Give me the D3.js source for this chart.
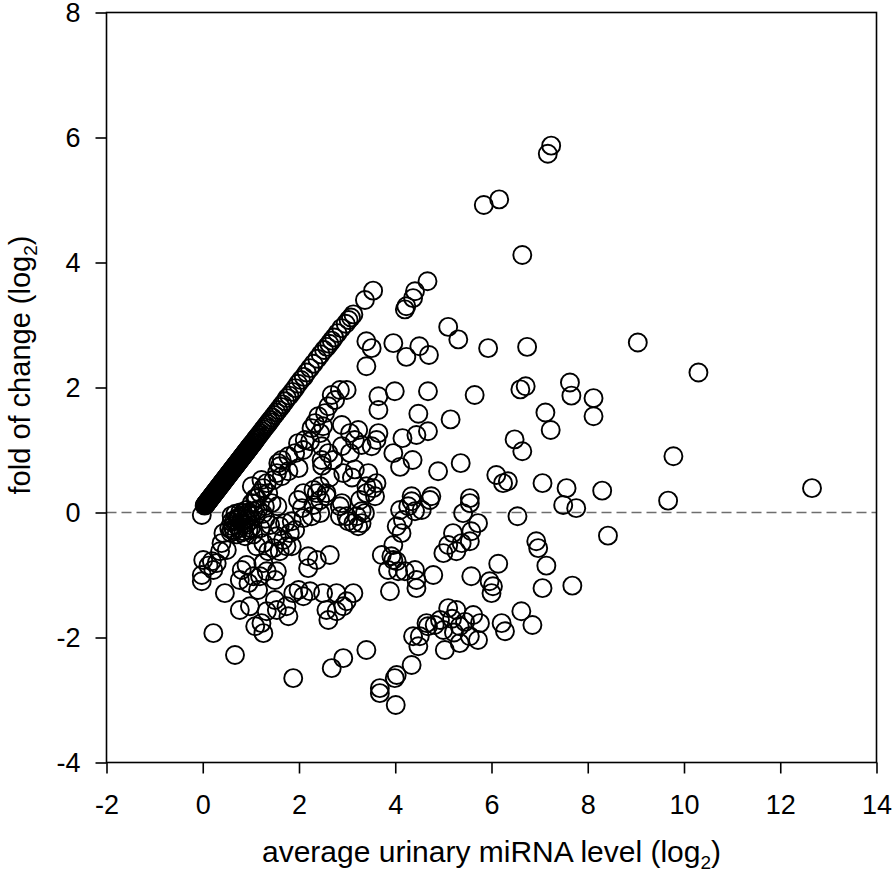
<!DOCTYPE html>
<html>
<head>
<meta charset="utf-8">
<script src="https://cdn.jsdelivr.net/npm/d3@7"></script>
<style>
  html, body { margin: 0; padding: 0; background: #fff; }
  svg { display: block; }
  text { font-family: "Liberation Sans", Arial, sans-serif; fill: #000; }
</style>
</head>
<body>
<svg id="chart" width="894" height="875"></svg>
<script>
// ---------- data ----------
const xTicks = [-2, 0, 2, 4, 6, 8, 10, 12, 14];
const yTicks = [-4, -2, 0, 2, 4, 6, 8];
const xTitle = "average urinary miRNA level (log";
const yTitle = "fold of change (log";

// upper diagonal band: very dense section near the origin
const diagonalDenseX = [0.04,0.05,0.06,0.07,0.08,0.09,0.1,0.11,0.12,0.13,0.14,0.15,0.16,0.17,0.18,0.19,0.2,0.21,0.22,0.23,0.24,0.25,0.26,0.27,0.28,0.29,0.3,0.31,0.32,0.33,0.34,0.35,0.36,0.37,0.38,0.39,0.4,0.41,0.42,0.43,0.44,0.45,0.46,0.47,0.48,0.49,0.5,0.51,0.52,0.53,0.54,0.55,0.56,0.57,0.58,0.59,0.6,0.61,0.62,0.63,0.64,0.65,0.66,0.67,0.68,0.69,0.7,0.71,0.72,0.73,0.74,0.75,0.76,0.77,0.78,0.79,0.8,0.81,0.82,0.83,0.84,0.85,0.86,0.87,0.88,0.89,0.9,0.91,0.92,0.93,0.94,0.95,0.96,0.97,0.98,0.99,1.0];
const diagonalDenseY = [0.11,0.12,0.13,0.14,0.15,0.16,0.17,0.18,0.19,0.2,0.21,0.22,0.23,0.24,0.25,0.26,0.27,0.28,0.29,0.3,0.31,0.32,0.33,0.34,0.35,0.36,0.37,0.38,0.39,0.4,0.41,0.42,0.43,0.44,0.45,0.46,0.47,0.48,0.49,0.5,0.51,0.52,0.53,0.54,0.55,0.56,0.57,0.58,0.59,0.6,0.61,0.62,0.63,0.64,0.65,0.66,0.67,0.68,0.69,0.7,0.71,0.72,0.73,0.74,0.75,0.76,0.77,0.78,0.79,0.8,0.81,0.82,0.83,0.84,0.85,0.86,0.87,0.88,0.89,0.9,0.91,0.92,0.93,0.94,0.95,0.96,0.97,0.98,0.99,1.0,1.01,1.02,1.03,1.04,1.05,1.06,1.07];
// upper diagonal band: sparser upper section
const diagonalX = [1.02,1.04,1.06,1.08,1.1,1.12,1.14,1.17,1.2,1.23,1.26,1.29,1.32,1.35,1.38,1.41,1.45,1.49,1.53,1.57,1.62,1.66,1.71,1.75,1.8,1.86,1.92,1.98,2.04,2.1,2.16,2.23,2.3,2.38,2.45,2.52,2.58,2.63,2.68,2.73,2.8,2.88,2.97,3.03,3.08,3.13,3.37,3.54];
const diagonalY = [1.09,1.11,1.12,1.15,1.17,1.19,1.21,1.24,1.27,1.3,1.33,1.36,1.39,1.42,1.45,1.48,1.52,1.56,1.6,1.64,1.69,1.73,1.78,1.83,1.87,1.93,1.99,2.06,2.12,2.17,2.24,2.31,2.38,2.46,2.53,2.6,2.65,2.7,2.75,2.8,2.87,2.95,3.02,3.08,3.12,3.17,3.4,3.55];

// all other points [avg level, fold change]
const scatterPoints = [
  [7.24,5.87],[7.17,5.74],[6.16,5.01],[5.84,4.92],[6.64,4.12],
  [5.93,2.63],[6.74,2.65],[9.04,2.72],[10.30,2.24],
  [5.65,1.88],[6.71,2.02],[6.60,1.97],[7.63,2.08],[7.66,1.87],[8.12,1.83],[7.12,1.60],[8.12,1.54],[7.23,1.32],
  [9.78,0.90],[8.30,0.35],[9.67,0.19],[12.66,0.39],[8.42,-0.37],
  [4.67,3.70],[4.41,3.54],[4.37,3.43],[4.23,3.30],[4.20,3.25],[5.10,2.97],[5.31,2.77],
  [3.96,2.71],[4.50,2.66],[4.23,2.49],[4.70,2.52],
  [3.99,1.94],[4.68,1.94],
  [4.48,1.58],[5.15,1.49],[4.68,1.30],[4.44,1.24],[4.15,1.19],[6.48,1.17],[6.64,0.98],
  [3.96,0.95],[4.36,0.84],[4.10,0.73],[5.36,0.79],[4.89,0.66],[6.10,0.60],[6.24,0.47],[6.34,0.50],[7.06,0.47],[7.56,0.39],
  [4.34,0.26],[4.75,0.26],[5.55,0.23],
  [4.34,0.18],[4.72,0.20],[4.10,0.04],[4.27,0.10],[4.41,0.02],[4.55,0.04],[4.16,-0.12],[4.03,-0.22],[4.13,-0.33],[3.96,-0.52],[3.92,-0.70],[4.03,-0.78],
  [5.55,0.15],[5.41,-0.01],[5.72,-0.17],
  [5.20,-0.33],[5.58,-0.30],[5.10,-0.52],[5.38,-0.49],[5.00,-0.65],[5.27,-0.62],[5.55,-0.46],
  [6.54,-0.06],[7.49,0.12],[7.76,0.07],[6.93,-0.46],[6.97,-0.57],[7.14,-0.85],[7.06,-1.21],[7.68,-1.17],
  [6.14,-0.82],[5.58,-1.02],[5.96,-1.10],[6.03,-1.18],[6.00,-1.29],
  [4.79,-1.00],[4.44,-1.21],[4.41,-0.92],[4.20,-0.94],[4.44,-1.08],
  [6.62,-1.58],[6.85,-1.80],[6.21,-1.77],[6.28,-1.90],
  [5.10,-1.53],[5.27,-1.56],[4.93,-1.72],[5.62,-1.64],[5.76,-1.77],[5.00,-1.88],[5.34,-1.82],[5.55,-1.98],[5.03,-2.20],[5.34,-2.09],[5.72,-2.04],[4.65,-1.77],[4.82,-1.80],[5.18,-1.70],[5.45,-1.75],[5.22,-1.92],
  [4.51,-1.98],[4.48,-2.14],[4.68,-1.82],[4.37,-1.98],
  [3.68,-2.81],[3.68,-2.89],[4.03,-2.60],[3.99,-2.65],[4.34,-2.44],[4.01,-3.08],[2.92,-2.33],[2.68,-2.49],[1.88,-2.65],[0.67,-2.28],[3.40,-2.20],
  [-0.02,-0.04],
  [0.01,-0.76],[0.19,-0.78],[0.29,-0.81],[0.22,-0.92],[0.12,-0.85],[0.36,-0.62],[0.43,-0.33],[0.60,-0.28],[-0.02,-1.0],[-0.02,-1.10],[0.39,-0.49],[0.50,-0.60],
  [0.46,-1.29],[0.77,-1.56],[0.98,-1.50],[0.22,-1.93],
  [0.81,-0.92],[0.77,-1.08],[0.95,-1.13],[1.15,-1.24],[0.91,-0.84],[1.05,-1.02],[1.19,-1.02],[1.33,-0.94],[1.54,-0.94],[1.50,-1.08],[1.26,-0.81],
  [1.88,-1.29],[1.99,-1.24],[1.74,-1.50],[1.54,-1.56],[1.50,-1.40],[1.33,-1.58],[1.22,-1.77],[1.09,-1.82],[1.26,-1.93],
  [2.09,-1.34],[2.23,-1.26],[1.78,-1.66],
  [2.50,-1.29],[2.57,-1.56],[2.61,-1.72],[2.78,-1.58],[2.92,-1.50],[2.99,-1.42],[3.13,-1.29],[2.78,-1.29],
  [2.19,-0.70],[2.37,-0.76],[2.64,-0.68],[2.19,-0.89],
  [3.72,-0.68],[3.96,-0.76],[4.06,-0.94],[3.85,-0.92],[3.89,-1.26],
  [1.12,-0.54],[1.26,-0.49],[1.36,-0.62],[1.47,-0.57],[1.60,-0.62],[1.74,-0.54],[1.67,-0.44],[1.54,-0.38],[1.81,-0.33],[1.60,-0.22],[1.71,-0.17],[1.85,-0.14],[1.92,-0.28],[1.85,-0.54],
  [2.09,-0.09],[2.06,0.07],[1.98,0.20],[2.09,0.31],
  [2.30,0.12],[2.44,0.20],[2.37,0.31],[2.57,0.31],[2.26,-0.06],[2.44,-0.01],[2.30,0.36],[2.44,0.42],[2.57,0.26],
  [2.85,0.10],[2.99,-0.06],[3.13,-0.17],[3.20,-0.06],[3.37,-0.01],[3.30,-0.17],[3.02,-0.14],[3.23,-0.22],[2.85,-0.06],[3.30,0.02],[2.89,0.15],
  [3.27,0.20],[3.40,0.42],[3.54,0.39],[3.61,0.47],[3.58,0.26],[3.40,0.31],[2.92,0.63],[3.16,0.69],[3.44,0.63],
  [0.84,-0.01],[0.91,0.04],[1.02,0.15],[1.09,0.23],[1.19,0.31],[1.26,0.39],[1.33,0.47],[1.47,0.52],[1.54,0.63],[1.64,0.58],[1.60,0.74],[1.78,0.66],[1.99,0.71],
  [1.57,0.79],[1.64,0.84],[1.78,0.90],[1.92,0.95],[2.09,1.00],[1.98,1.11],[2.12,1.16],[2.23,1.14],[2.26,1.35],[2.33,1.43],[2.40,1.54],[2.54,1.59],[2.61,1.70],[2.75,1.80],[2.68,1.88],[2.85,1.96],[2.99,1.96],[2.50,1.38],[2.44,1.27],
  [2.89,1.40],[3.06,1.27],[3.23,1.32],[3.16,1.16],[3.30,1.08],[3.06,0.95],[2.89,1.06],[3.61,1.16],[3.51,1.06],[3.65,1.27],
  [2.47,1.06],[2.61,0.95],[2.71,0.84],[2.47,0.84],
  [3.40,2.74],[3.51,2.63],[3.40,2.34],[3.65,1.86],[3.65,1.64],
  [2.48,0.75],[2.64,0.56],[3.10,0.56],
  [1.02,0.42],[1.22,0.52],[1.36,0.31],[1.43,0.15],[1.29,0.10],[1.12,0.23],
  [0.55,-0.25],[0.60,-0.15],[0.65,-0.30],[0.70,-0.20],[0.72,-0.10],[0.75,-0.25],[0.80,-0.15],[0.82,-0.05],[0.85,-0.30],[0.90,-0.20],[0.92,-0.10],[0.95,0.00],
  [1.00,-0.25],[1.00,-0.12],[1.05,0.02],[0.70,-0.35],[0.60,-0.05],[0.78,0.00],[0.68,-0.02],[0.88,-0.38],[1.05,-0.35],[1.10,-0.05],
  [1.15,0.05],[1.25,-0.02],[1.30,-0.10],[1.40,-0.20],[1.20,-0.25],[1.55,0.10],
  [0.62,-0.22],[0.75,-0.08],[0.85,-0.18],[0.95,-0.28],[0.58,-0.32],[0.80,-0.32],[0.98,-0.05],[0.66,-0.12]
];

// ---------- layout ----------
const svg = d3.select("#chart");
const plotLeft = 106.5, plotRight = 876.5, plotTop = 12.5, plotBottom = 762.5;

const x = d3.scaleLinear().domain([-2, 14]).range([plotLeft, plotRight]);
const y = d3.scaleLinear().domain([-4, 8]).range([plotBottom, plotTop]);

// zero reference line
svg.append("line")
  .attr("x1", x(-2)).attr("x2", x(14))
  .attr("y1", y(0)).attr("y2", y(0))
  .attr("stroke", "#6e6e6e").attr("stroke-width", 1.3)
  .attr("stroke-dasharray", "10,5");

// points
const allPoints = diagonalDenseX.map((v, i) => [v, diagonalDenseY[i]])
  .concat(diagonalX.map((v, i) => [v, diagonalY[i]]))
  .concat(scatterPoints);
svg.append("g")
  .selectAll("circle")
  .data(allPoints)
  .join("circle")
  .attr("cx", d => x(d[0]))
  .attr("cy", d => y(d[1]))
  .attr("r", 9)
  .attr("fill", "none")
  .attr("stroke", "#000")
  .attr("stroke-width", 1.9);

// frame
svg.append("rect")
  .attr("x", plotLeft).attr("y", plotTop)
  .attr("width", plotRight - plotLeft).attr("height", plotBottom - plotTop)
  .attr("fill", "none").attr("stroke", "#000").attr("stroke-width", 1.6);

// axes
const fmt = d => String(d);
const xAxis = svg.append("g")
  .attr("transform", `translate(0,${plotBottom})`)
  .call(d3.axisBottom(x).tickValues(xTicks).tickFormat(fmt).tickSize(11).tickPadding(21));
const yAxis = svg.append("g")
  .attr("transform", `translate(${plotLeft},0)`)
  .call(d3.axisLeft(y).tickValues(yTicks).tickFormat(fmt).tickSize(11).tickPadding(15));

[xAxis, yAxis].forEach(g => {
  g.select(".domain").remove();
  g.selectAll(".tick line").attr("stroke", "#000").attr("stroke-width", 1.6);
  g.selectAll(".tick text")
    .attr("font-family", "'Liberation Sans', Arial, sans-serif")
    .attr("font-size", 27).attr("fill", "#000");
});

// x title
const xt = svg.append("text")
  .attr("x", (plotLeft + plotRight) / 2).attr("y", 862)
  .attr("text-anchor", "middle")
  .attr("font-size", 30);
xt.append("tspan").text(xTitle);
xt.append("tspan").attr("font-size", 19).attr("dy", 7).text("2");
xt.append("tspan").attr("dy", -7).text(")");

// y title
const yt = svg.append("text")
  .attr("transform", `translate(30,365) rotate(-90)`)
  .attr("text-anchor", "middle")
  .attr("font-size", 29);
yt.append("tspan").text(yTitle);
yt.append("tspan").attr("font-size", 19).attr("dy", 7).text("2");
yt.append("tspan").attr("dy", -7).text(")");
</script>
</body>
</html>
